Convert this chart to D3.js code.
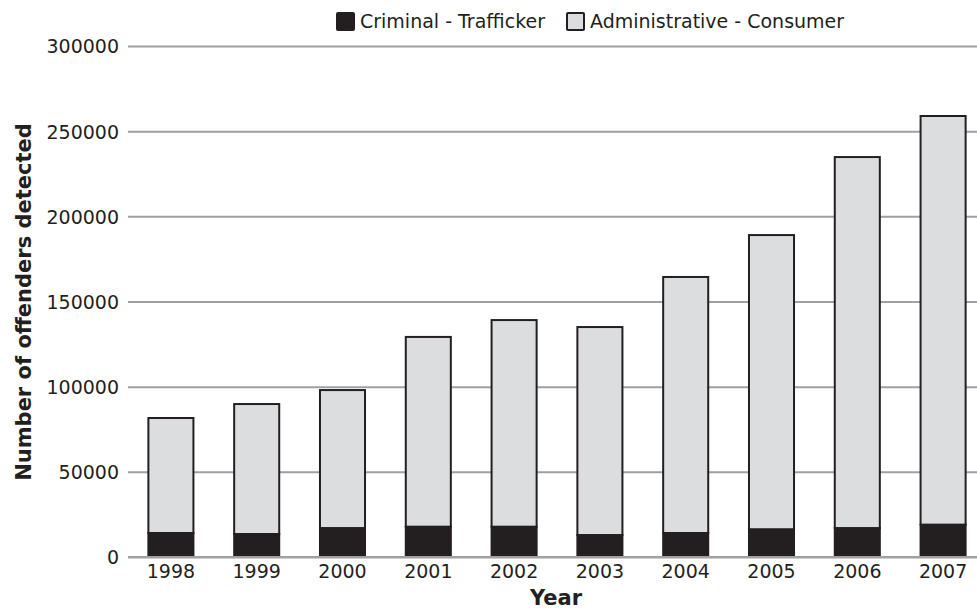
<!DOCTYPE html>
<html><head><meta charset="utf-8">
<script src="https://cdn.jsdelivr.net/npm/d3@7/dist/d3.min.js"></script>
<style>body{margin:0;background:#fff}svg text{font-family:"DejaVu Sans"}</style>
</head><body>
<script>
const years = ["1998","1999","2000","2001","2002","2003","2004","2005","2006","2007"];
const criminal = [14100, 13500, 17000, 17800, 17800, 12900, 14100, 16300, 17000, 19000];
const consumer = [67500, 76300, 81000, 111400, 121300, 122100, 150300, 172700, 217800, 239900];
const yTicks = [0, 50000, 100000, 150000, 200000, 250000, 300000];
const seriesNames = ["Criminal - Trafficker", "Administrative - Consumer"];
const colors = ["#231f20", "#dcdddf"];
const FONT = "DejaVu Sans";

const W = 977, H = 610;
const svg = d3.select("body").append("svg").attr("width", W).attr("height", H);
const x = d3.scaleBand().domain(years).range([128, 986]).paddingInner(0.475).paddingOuter(0.2375);
const y = d3.scaleLinear().domain([0, 300000]).range([557, 46]);

// grid
const yAxis = d3.axisLeft(y).tickValues(yTicks).tickSize(-(W - 128)).tickPadding(8).tickFormat(d3.format("d"));
const gy = svg.append("g").attr("transform", "translate(128,0)").call(yAxis).attr("font-family", FONT);
gy.select(".domain").remove();
gy.selectAll(".tick line").attr("stroke", "#a0a0a0").attr("stroke-width", 2);
gy.selectAll(".tick text").attr("font-size", 19).attr("font-family", FONT).attr("fill", "#231f20").attr("x", -9).attr("dy", "0.36em");

const stackData = years.map((yr, i) => ({year: yr, c: criminal[i], a: consumer[i]}));
const stack = d3.stack().keys(["c", "a"])(stackData);
const g = svg.append("g");
stack.forEach((s, si) => {
  g.selectAll(".b" + si).data(s).join("rect")
    .attr("x", d => x(d.data.year))
    .attr("width", x.bandwidth())
    .attr("y", d => y(d[1]))
    .attr("height", d => y(d[0]) - y(d[1]))
    .attr("fill", colors[si])
    .attr("stroke", "#231f20").attr("stroke-width", 2);
});

// x axis
const xAxis = d3.axisBottom(x).tickSize(0).tickPadding(8);
const gx = svg.append("g").attr("transform", "translate(0,557)").call(xAxis).attr("font-family", FONT);
gx.select(".domain").remove();
gx.selectAll(".tick text").attr("font-size", 19).attr("font-family", FONT).attr("fill", "#231f20");
svg.append("line").attr("x1", 128).attr("x2", W).attr("y1", 557).attr("y2", 557).attr("stroke", "#a0a0a0").attr("stroke-width", 2);

// titles
svg.append("text").attr("x", 556).attr("y", 605).attr("text-anchor", "middle").attr("font-family", FONT)
  .attr("font-size", 21).attr("font-weight", "bold").attr("fill", "#231f20").text("Year");
svg.append("text").attr("transform", "translate(31,302) rotate(-90)").attr("text-anchor", "middle").attr("font-family", FONT)
  .attr("font-size", 21).attr("font-weight", "bold").attr("fill", "#231f20").text("Number of offenders detected");

// legend
const leg = [{x: 336, name: seriesNames[0], c: colors[0]}, {x: 566, name: seriesNames[1], c: colors[1]}];
leg.forEach(l => {
  svg.append("rect").attr("x", l.x + 1).attr("y", 13).attr("width", 17).attr("height", 17)
    .attr("fill", l.c).attr("stroke", "#231f20").attr("stroke-width", 2).attr("rx", 1);
  svg.append("text").attr("x", l.x + 24).attr("y", 28).attr("font-size", 19).attr("font-family", FONT).attr("fill", "#231f20").text(l.name);
});
</script>
</body></html>
